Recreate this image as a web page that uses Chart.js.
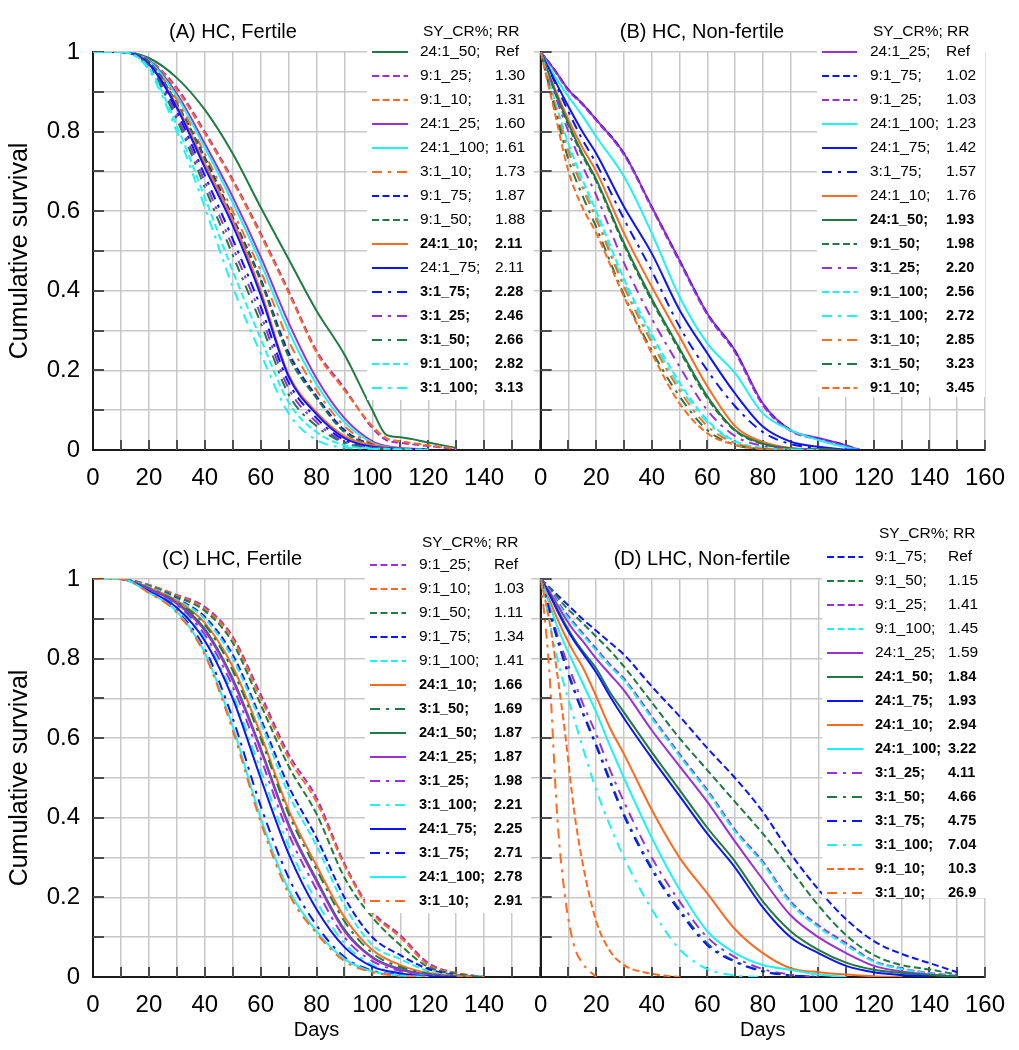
<!DOCTYPE html>
<html><head><meta charset="utf-8">
<script src="https://cdn.jsdelivr.net/npm/chart.js@4.4.0/dist/chart.umd.min.js"></script>
<style>
html,body{margin:0;padding:0;background:#fff;}
body{width:1019px;height:1050px;position:relative;overflow:hidden;}
canvas{position:absolute;display:block;}
</style></head><body>
<canvas id="cA"></canvas><canvas id="cB"></canvas><canvas id="cC"></canvas><canvas id="cD"></canvas>
<script>
// ---------------- DATA ----------------
const yTickLabels = ['0','0.2','0.4','0.6','0.8','1'];

// Panel A: HC, Fertile
const daysA = [0,10,20,30,40,50,60,70,80,90,100,105,110,120,130,140];
const labelsA = ['24:1_50','9:1_25','9:1_10','24:1_25','24:1_100','3:1_10','9:1_75','9:1_50','24:1_10','24:1_75','3:1_75','3:1_25','3:1_50','9:1_100','3:1_100'];
const rrA = ['Ref','1.30','1.31','1.60','1.61','1.73','1.87','1.88','2.11','2.11','2.28','2.46','2.66','2.82','3.13'];
const boldA = [0,0,0,0,0,0,0,0,1,0,1,1,1,1,1];
const A_24_1_50  = [1,1,0.985,0.935,0.855,0.745,0.61,0.48,0.35,0.24,0.10,0.038,0.032,0.019,0.005];
const A_9_1_25   = [1,1,0.98,0.91,0.80,0.68,0.545,0.40,0.25,0.155,0.055,0.025,0.018,0.01,0.002];
const A_9_1_10   = [1,1,0.98,0.905,0.795,0.675,0.54,0.395,0.245,0.15,0.06,0.03,0.022,0.012,0.003];
const A_24_1_25  = [1,1,0.98,0.895,0.77,0.636,0.486,0.32,0.18,0.08,0.022,0.01,0.005,0.002];
const A_24_1_100 = [1,1,0.978,0.888,0.76,0.622,0.47,0.30,0.165,0.07,0.018,0.008,0.004,0.002];
const A_3_1_10   = [1,1,0.975,0.88,0.745,0.60,0.45,0.275,0.15,0.06,0.016,0.007,0.004,0.002];
const A_9_1_75   = [1,1,0.975,0.87,0.735,0.585,0.43,0.245,0.135,0.05,0.013,0.006,0.003,0.001];
const A_9_1_50   = [1,1,0.975,0.87,0.73,0.58,0.425,0.235,0.13,0.045,0.012,0.006,0.003,0.001];
const A_24_1_10  = [1,1,0.97,0.865,0.72,0.578,0.40,0.19,0.095,0.035,0.012,0.007,0.004,0.002];
const A_24_1_75  = [1,1,0.97,0.86,0.71,0.565,0.39,0.185,0.09,0.03,0.008,0.005,0.003,0.001];
const A_3_1_75   = [1,1,0.968,0.85,0.69,0.53,0.36,0.17,0.08,0.025,0.007,0.004,0.002,0.001];
const A_3_1_25   = [1,1,0.965,0.84,0.675,0.51,0.34,0.155,0.07,0.02,0.006,0.004,0.002,0.001];
const A_3_1_50   = [1,1,0.962,0.83,0.66,0.49,0.32,0.14,0.06,0.018,0.005,0.003,0.002,0.001];
const A_9_1_100  = [1,1,0.96,0.815,0.635,0.45,0.28,0.12,0.045,0.012,0.004,0.003,0.002,0.001];
const A_3_1_100  = [1,1,0.955,0.80,0.61,0.41,0.243,0.092,0.025,0.006,0.003,0.002,0.001,0];
const seriesA = [A_24_1_50,A_9_1_25,A_9_1_10,A_24_1_25,A_24_1_100,A_3_1_10,A_9_1_75,A_9_1_50,A_24_1_10,A_24_1_75,A_3_1_75,A_3_1_25,A_3_1_50,A_9_1_100,A_3_1_100];

// Panel B: HC, Non-fertile
const daysB = [0,5,10,15,20,30,40,50,60,70,80,90,100,108,115];
const labelsB = ['24:1_25','9:1_75','9:1_25','24:1_100','24:1_75','3:1_75','24:1_10','24:1_50','9:1_50','3:1_25','9:1_100','3:1_100','3:1_10','3:1_50','9:1_10'];
const rrB = ['Ref','1.02','1.03','1.23','1.42','1.57','1.76','1.93','1.98','2.20','2.56','2.72','2.85','3.23','3.45'];
const boldB = [0,0,0,0,0,0,0,1,1,1,1,1,1,1,1];
const B_24_1_25  = [1,0.955,0.905,0.87,0.83,0.745,0.611,0.477,0.343,0.25,0.117,0.05,0.03,0.016,0];
const B_9_1_75   = [1,0.955,0.905,0.87,0.83,0.745,0.61,0.476,0.343,0.248,0.115,0.05,0.028,0.015,0];
const B_9_1_25   = [1,0.953,0.903,0.868,0.828,0.742,0.608,0.473,0.34,0.245,0.113,0.048,0.027,0.014,0];
const B_24_1_100 = [1,0.94,0.888,0.84,0.787,0.687,0.545,0.385,0.268,0.193,0.092,0.05,0.025,0.01,0];
const B_24_1_75  = [1,0.93,0.863,0.80,0.745,0.611,0.494,0.352,0.243,0.142,0.059,0.021,0.008,0.002,0];
const B_3_1_75   = [1,0.925,0.85,0.78,0.72,0.58,0.45,0.31,0.20,0.11,0.045,0.015,0.005,0];
const B_24_1_10  = [1,0.91,0.83,0.76,0.70,0.545,0.41,0.285,0.16,0.06,0.02,0.005,0.002,0];
const B_24_1_50  = [1,0.905,0.82,0.745,0.68,0.52,0.38,0.255,0.135,0.05,0.016,0.004,0.001,0];
const B_9_1_50   = [1,0.90,0.815,0.74,0.675,0.515,0.375,0.25,0.13,0.048,0.015,0.003,0.001,0];
const B_3_1_25   = [1,0.895,0.80,0.715,0.64,0.47,0.33,0.21,0.10,0.035,0.01,0.002,0];
const B_9_1_100  = [1,0.88,0.77,0.68,0.60,0.43,0.29,0.17,0.075,0.022,0.005,0.001,0];
const B_3_1_100  = [1,0.875,0.76,0.67,0.59,0.42,0.28,0.16,0.07,0.02,0.004,0.001,0];
const B_3_1_10   = [1,0.87,0.75,0.66,0.58,0.41,0.27,0.15,0.06,0.017,0.003,0];
const B_3_1_50   = [1,0.86,0.73,0.64,0.56,0.39,0.25,0.135,0.05,0.013,0.002,0];
const B_9_1_10   = [1,0.85,0.70,0.61,0.545,0.385,0.243,0.117,0.042,0.013,0.002,0];
const seriesB = [B_24_1_25,B_9_1_75,B_9_1_25,B_24_1_100,B_24_1_75,B_3_1_75,B_24_1_10,B_24_1_50,B_9_1_50,B_3_1_25,B_9_1_100,B_3_1_100,B_3_1_10,B_3_1_50,B_9_1_10];

// Panel C: LHC, Fertile
const daysC = [0,10,20,30,40,50,60,70,80,90,100,110,120,130,140];
const labelsC = ['9:1_25','9:1_10','9:1_50','9:1_75','9:1_100','24:1_10','3:1_50','24:1_50','24:1_25','3:1_25','3:1_100','24:1_75','3:1_75','24:1_100','3:1_10'];
const rrC = ['Ref','1.03','1.11','1.34','1.41','1.66','1.69','1.87','1.87','1.98','2.21','2.25','2.71','2.78','2.91'];
const boldC = [0,0,0,0,0,1,1,1,1,1,1,1,1,1,1];
const C_9_1_25   = [1,1,0.985,0.96,0.93,0.855,0.71,0.56,0.45,0.285,0.165,0.105,0.035,0.01,0];
const C_9_1_10   = [1,1,0.985,0.958,0.925,0.85,0.70,0.55,0.44,0.28,0.16,0.10,0.03,0.01,0];
const C_9_1_50   = [1,1,0.983,0.955,0.92,0.84,0.685,0.53,0.41,0.25,0.15,0.08,0.025,0.008,0];
const C_9_1_75   = [1,1,0.98,0.95,0.905,0.81,0.65,0.48,0.35,0.20,0.10,0.055,0.02,0.005,0];
const C_9_1_100  = [1,1,0.98,0.948,0.90,0.80,0.64,0.46,0.33,0.18,0.08,0.045,0.015,0.004,0];
const C_24_1_10  = [1,1,0.978,0.945,0.89,0.78,0.61,0.42,0.28,0.15,0.068,0.03,0.01,0.003,0];
const C_3_1_50   = [1,1,0.977,0.942,0.885,0.77,0.60,0.41,0.27,0.14,0.06,0.025,0.008,0.002,0];
const C_24_1_50  = [1,1,0.975,0.94,0.875,0.75,0.575,0.385,0.245,0.12,0.05,0.02,0.006,0];
const C_24_1_25  = [1,1,0.975,0.938,0.87,0.745,0.57,0.38,0.24,0.115,0.048,0.018,0.005,0];
const C_3_1_25   = [1,1,0.973,0.935,0.86,0.73,0.55,0.36,0.22,0.10,0.04,0.015,0.004,0];
const C_3_1_100  = [1,1,0.97,0.93,0.85,0.71,0.52,0.33,0.19,0.085,0.03,0.01,0.003,0];
const C_24_1_75  = [1,1,0.97,0.928,0.845,0.70,0.50,0.31,0.17,0.075,0.026,0.009,0.002,0];
const C_3_1_75   = [1,1,0.968,0.92,0.825,0.65,0.43,0.25,0.13,0.05,0.016,0.005,0];
const C_24_1_100 = [1,1,0.966,0.918,0.815,0.63,0.40,0.22,0.115,0.045,0.014,0.004,0];
const C_3_1_10   = [1,1,0.965,0.915,0.81,0.62,0.39,0.21,0.11,0.04,0.012,0.003,0];
const seriesC = [C_9_1_25,C_9_1_10,C_9_1_50,C_9_1_75,C_9_1_100,C_24_1_10,C_3_1_50,C_24_1_50,C_24_1_25,C_3_1_25,C_3_1_100,C_24_1_75,C_3_1_75,C_24_1_100,C_3_1_10];

// Panel D: LHC, Non-fertile
const daysD = [0,3,6,9,12,15,20,25,30,40,50,60,70,80,90,100,110,120,130,140,150,160];
const labelsD = ['9:1_75','9:1_50','9:1_25','9:1_100','24:1_25','24:1_50','24:1_75','24:1_10','24:1_100','3:1_25','3:1_50','3:1_75','3:1_100','9:1_10','3:1_10'];
const rrD = ['Ref','1.15','1.41','1.45','1.59','1.84','1.93','2.94','3.22','4.11','4.66','4.75','7.04','10.3','26.9'];
const boldD = [0,0,0,0,0,1,1,1,1,1,1,1,1,1,1];
const D_9_1_75   = [1,0.98,0.96,0.94,0.92,0.90,0.87,0.84,0.81,0.73,0.655,0.575,0.50,0.415,0.31,0.22,0.145,0.09,0.058,0.035,0.012];
const D_9_1_50   = [1,0.98,0.955,0.93,0.91,0.89,0.855,0.82,0.78,0.69,0.60,0.52,0.44,0.36,0.27,0.18,0.105,0.055,0.03,0.019,0.006];
const D_9_1_25   = [1,0.975,0.945,0.915,0.89,0.865,0.825,0.785,0.75,0.655,0.56,0.47,0.37,0.29,0.19,0.13,0.085,0.04,0.022,0.01,0.003];
const D_9_1_100  = [1,0.972,0.94,0.91,0.885,0.86,0.82,0.78,0.745,0.65,0.555,0.465,0.365,0.285,0.185,0.125,0.08,0.038,0.02,0.009,0.002];
const D_24_1_25  = [1,0.97,0.935,0.90,0.87,0.845,0.80,0.76,0.72,0.62,0.53,0.44,0.34,0.245,0.155,0.10,0.06,0.028,0.014,0.006,0.001];
const D_24_1_50  = [1,0.965,0.925,0.885,0.85,0.82,0.775,0.715,0.665,0.565,0.47,0.375,0.29,0.19,0.115,0.068,0.036,0.018,0.01,0.005,0.001];
const D_24_1_75  = [1,0.963,0.92,0.88,0.845,0.815,0.765,0.705,0.65,0.55,0.455,0.36,0.275,0.175,0.10,0.06,0.028,0.012,0.005,0.001];
const D_24_1_10  = [1,0.95,0.90,0.855,0.815,0.78,0.705,0.625,0.56,0.42,0.30,0.21,0.12,0.06,0.022,0.012,0.006,0.002,0];
const D_24_1_100 = [1,0.94,0.88,0.83,0.785,0.74,0.665,0.58,0.50,0.35,0.22,0.115,0.06,0.03,0.018,0.006,0];
const D_3_1_25   = [1,0.93,0.86,0.80,0.745,0.69,0.61,0.52,0.44,0.30,0.19,0.10,0.05,0.02,0.006,0];
const D_3_1_50   = [1,0.925,0.85,0.785,0.725,0.67,0.585,0.495,0.41,0.275,0.17,0.085,0.04,0.015,0.004,0];
const D_3_1_75   = [1,0.923,0.848,0.78,0.72,0.665,0.58,0.49,0.405,0.27,0.165,0.08,0.038,0.014,0.004,0];
const D_3_1_100  = [1,0.90,0.80,0.72,0.65,0.58,0.47,0.38,0.30,0.17,0.07,0.02,0.004,0];
const D_9_1_10   = [1,0.90,0.76,0.60,0.42,0.29,0.14,0.065,0.03,0.008,0];
const D_3_1_10   = [1,0.78,0.40,0.19,0.08,0.035,0];
const seriesD = [D_9_1_75,D_9_1_50,D_9_1_25,D_9_1_100,D_24_1_25,D_24_1_50,D_24_1_75,D_24_1_10,D_24_1_100,D_3_1_25,D_3_1_50,D_3_1_75,D_3_1_100,D_9_1_10,D_3_1_10];

// ---------------- STYLE ----------------
const FONT = '"Liberation Sans", Arial, Helvetica, sans-serif';
const COLORS = {'10':'#ff6a1f','25':'#9b30d9','50':'#1f7a44','75':'#0a14ff','100':'#1ef2f2'};
function styleFor(lab){
  const parts = lab.split('_');
  const color = COLORS[parts[1]];
  let dash = [];
  if (parts[0] === '9:1') dash = [7,3.5];
  else if (parts[0] === '3:1') dash = [10,6,3,6];
  return {color, dash};
}

const PANELS = [
 {id:'cA', left:0, top:0, w:560, h:520, plotL:93, plotR:540, plotT:52, plotB:450, yLabels:true, xTitle:false, xMaxLabel:140,
  title:'(A) HC, Fertile', titleX:233, titleY:32,
  leg:{box:[367,40,167,360], titleX:423, titleY:32, y0:52, dy:24, lineX0:372, lineX1:408, textX:420, rrX:495},
  days:daysA, labels:labelsA, rr:rrA, bold:boldA, series:seriesA},
 {id:'cB', left:520, top:0, w:499, h:520, plotL:540, plotR:986, plotT:52, plotB:450, yLabels:false, xTitle:false, xMaxLabel:160,
  title:'(B) HC, Non-fertile', titleX:702, titleY:32,
  leg:{box:[817,40,168,357], titleX:873, titleY:32, y0:52, dy:24, lineX0:822, lineX1:857, textX:870, rrX:946},
  days:daysB, labels:labelsB, rr:rrB, bold:boldB, series:seriesB},
 {id:'cC', left:0, top:520, w:560, h:530, plotL:93, plotR:540, plotT:579, plotB:977, yLabels:true, xTitle:true, xMaxLabel:140,
  title:'(C) LHC, Fertile', titleX:232, titleY:559,
  leg:{box:[365,555,166,358], titleX:422, titleY:543, y0:565, dy:24, lineX0:370, lineX1:406, textX:419, rrX:494},
  days:daysC, labels:labelsC, rr:rrC, bold:boldC, series:seriesC},
 {id:'cD', left:520, top:520, w:499, h:530, plotL:540, plotR:986, plotT:579, plotB:977, yLabels:false, xTitle:true, xMaxLabel:160,
  title:'(D) LHC, Non-fertile', titleX:702, titleY:559,
  leg:{box:[822,545,164,353], titleX:879, titleY:534, y0:557, dy:24, lineX0:827, lineX1:863, textX:875, rrX:948},
  days:daysD, labels:labelsD, rr:rrD, bold:boldD, series:seriesD}
];

function makeDeco(p){
  return {
    id:'deco'+p.id,
    beforeDatasetsDraw(chart){
      const {ctx, chartArea:a, scales:{x,y}} = chart;
      ctx.save(); ctx.strokeStyle='#4d4d4d'; ctx.lineWidth=2; ctx.setLineDash([]);
      ctx.beginPath();
      for (let d=10; d<=160; d+=10){ const px=Math.round(x.getPixelForValue(d)); ctx.moveTo(px,a.bottom); ctx.lineTo(px,a.bottom-10); }
      for (let k=1; k<=10; k++){ const py=Math.round(y.getPixelForValue(k/10)); ctx.moveTo(a.left,py); ctx.lineTo(a.left+11,py); }
      ctx.stroke(); ctx.restore();
    },
    afterDatasetsDraw(chart){
      const ctx = chart.ctx; const ox=p.left, oy=p.top; const L=p.leg;
      ctx.save();
      ctx.fillStyle='#fff'; ctx.fillRect(L.box[0]-ox, L.box[1]-oy, L.box[2], L.box[3]);
      ctx.fillStyle='#000'; ctx.textBaseline='middle'; ctx.textAlign='left';
      ctx.font = '15.5px '+FONT;
      ctx.fillText('SY_CR%; RR', L.titleX-ox, L.titleY-oy);
      p.labels.forEach((lab,i)=>{
        const yy = L.y0 + i*L.dy - oy;
        const st = styleFor(lab);
        ctx.strokeStyle=st.color; ctx.lineWidth=2; ctx.setLineDash(st.dash);
        ctx.beginPath(); ctx.moveTo(L.lineX0-ox, yy); ctx.lineTo(L.lineX1-ox, yy); ctx.stroke();
        ctx.setLineDash([]);
        ctx.fillStyle='#000';
        ctx.font = p.bold[i] ? ('bold 14.5px '+FONT) : ('15.5px '+FONT);
        const t = lab+';';
        ctx.fillText(t, L.textX-ox, yy);
        const w = ctx.measureText(t).width;
        const rx = Math.max(L.rrX, L.textX + w + 5);
        ctx.fillText(p.rr[i], rx-ox, yy);
      });
      ctx.font = '20px '+FONT; ctx.textAlign='center'; ctx.fillStyle='#000';
      ctx.fillText(p.title, p.titleX-ox, p.titleY-oy);
      ctx.restore();
    }
  };
}

PANELS.forEach(p=>{
  const cv = document.getElementById(p.id);
  cv.width = p.w; cv.height = p.h;
  cv.style.left = p.left+'px'; cv.style.top = p.top+'px';
  cv.style.width = p.w+'px'; cv.style.height = p.h+'px';
  const datasets = p.labels.map((lab,i)=>{
    const st = styleFor(lab);
    return {
      label: lab,
      data: p.days.map((d,j)=>({x:d, y:(p.series[i][j] === undefined ? null : p.series[i][j])})),
      borderColor: st.color, borderDash: st.dash, borderWidth: 2,
      pointRadius: 0, fill: false, cubicInterpolationMode: 'monotone', spanGaps: false
    };
  }).reverse();
  const yW = p.plotL - p.left;
  const xH = p.top + p.h - p.plotB;
  new Chart(cv, {
    type: 'line',
    data: {datasets},
    options: {
      responsive: false, animation: false, events: [],
      layout: {padding: {top: p.plotT - p.top, right: p.left + p.w - p.plotR, left: 0, bottom: 0}},
      plugins: {legend:{display:false}, tooltip:{enabled:false}, title:{display:false}},
      scales: {
        x: {
          type:'linear', min:0, max:160,
          afterFit(s){ s.height = xH; },
          ticks:{ stepSize:10, autoSkip:false, maxRotation:0, minRotation:0, padding:14, color:'#000',
            font:{family:FONT, size:24},
            callback:(v)=>{ const r=Math.round(v); return (r%20===0 && r<=p.xMaxLabel) ? String(r) : ''; } },
          grid:{ color:'#c8c8c8', lineWidth:1.5, drawTicks:false },
          border:{ display:true, color:'#1a1a1a', width:2 },
          title:{ display:p.xTitle, text:'Days', color:'#000', font:{family:FONT, size:20}, padding:{top:0, bottom:8} }
        },
        y: {
          type:'linear', min:0, max:1,
          afterFit(s){ s.width = yW; },
          ticks:{ display:p.yLabels, stepSize:0.1, padding:13, color:'#000', font:{family:FONT, size:24},
            callback:(v)=>{ const k=Math.round(v*10); if (k%2) return ''; return yTickLabels[k/2]; } },
          grid:{ color:'#c8c8c8', lineWidth:1.5, drawTicks:false },
          border:{ display:true, color:'#1a1a1a', width:2 },
          title:{ display:p.yLabels, text:'Cumulative survival', color:'#000', font:{family:FONT, size:25}, padding:{top:5, bottom:0} }
        }
      }
    },
    plugins:[makeDeco(p)]
  });
});
</script></body></html>
